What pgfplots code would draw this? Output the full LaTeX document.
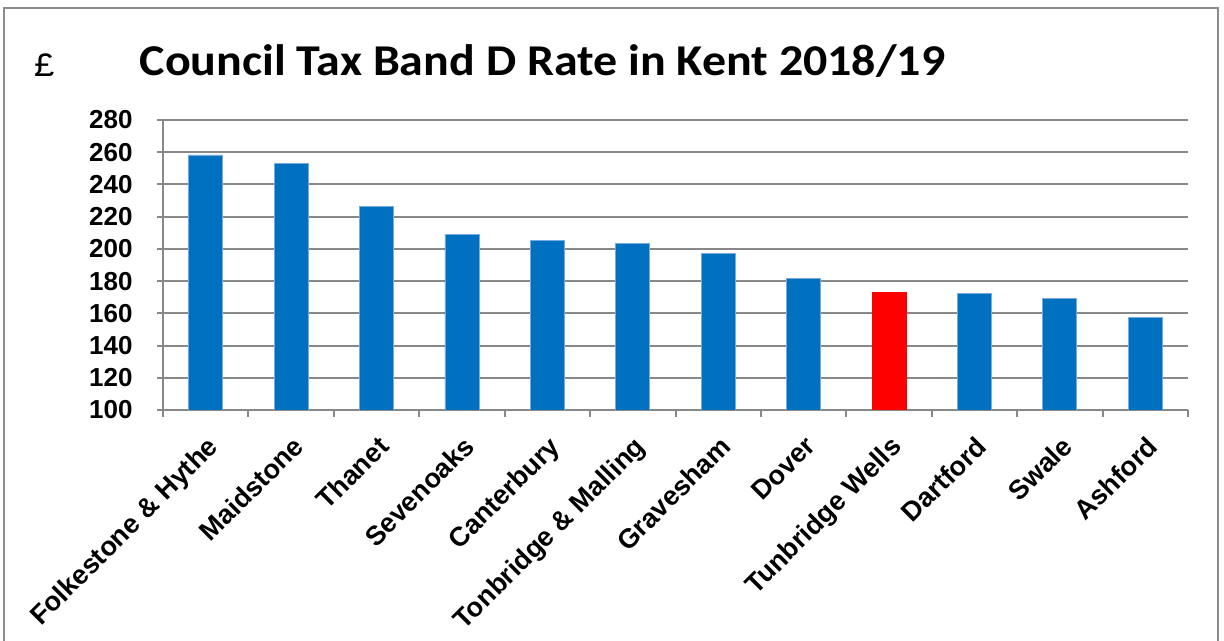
\documentclass[border=0pt]{standalone}
\usepackage{pgfplots}
\pgfplotsset{compat=1.18}
\usepackage{fontspec}
\setmainfont{Liberation Sans}
\newfontfamily\carlito{Carlito}
\newfontfamily\monof{Liberation Mono}
\definecolor{barblue}{RGB}{0,112,192}
\definecolor{baredge}{RGB}{120,170,220}
\definecolor{gridgray}{RGB}{136,136,136}
\definecolor{framegray}{RGB}{140,140,140}
\begin{document}
\begin{tikzpicture}
\path[use as bounding box] (-81.5pt,-115.5pt) rectangle (530.5pt,205pt);
\draw[framegray, line width=1pt] (-79.5pt,-130pt) -- (-79.5pt,201pt) -- (527.5pt,201pt) -- (527.5pt,-130pt);
\node[anchor=base, inner sep=0pt, font=\carlito\bfseries\fontsize{22}{26}\selectfont] at (189.75pt,167pt) {\scalebox{1.09}[1]{Council Tax Band D Rate in Kent 2018/19}};
\node[anchor=base, inner sep=0pt, font=\monof\fontsize{17}{20}\selectfont] at (-59.25pt,166.5pt) {£};
\begin{axis}[
  at={(0,0)}, anchor=south west,
  scale only axis, width=512.5pt, height=145pt,
  xmin=-0.5, xmax=11.5, ymin=100, ymax=280,
  ytick={100,120,...,280},
  xtick={0,...,11},
  xticklabels={Folkestone \& Hythe, Maidstone, Thanet, Sevenoaks, Canterbury, Tonbridge \& Malling, Gravesham, Dover, Tunbridge Wells, Dartford, Swale, Ashford},
  minor xtick={-0.5,0.5,...,11.5},
  every major x tick/.append style={draw=none},
  axis x line=bottom, axis y line=left,
  axis line style={-, gridgray, line width=1pt},
  tick style={gridgray, line width=1pt},
  tick align=outside,
  major tick length=3pt, minor tick length=3.5pt,
  ymajorgrids,
  major grid style={gridgray, line width=1pt},
  /pgf/number format/assume math mode=true,
  yticklabel style={font=\bfseries\fontsize{13}{15}\selectfont, inner sep=0pt, anchor=east, xshift=-12pt},
  xticklabel style={font=\bfseries\fontsize{13.5}{15}\selectfont, inner sep=0pt, yshift=-9pt, rotate=45, anchor=north east},
  ybar, bar width=17pt,
  clip=true,
]
\addplot[fill=barblue, draw=baredge, line width=0.4pt, bar shift=0pt] coordinates {
  (0,258.3) (1,253.1) (2,226.4) (3,208.8) (4,205.1) (5,203.5) (6,197.2) (7,181.9) (9,172.6) (10,169.5) (11,157.3)
};
\addplot[fill=red, draw=red, line width=0.4pt, bar shift=0pt] coordinates {
  (8,173.2)
};
\end{axis}
\end{tikzpicture}
\end{document}
